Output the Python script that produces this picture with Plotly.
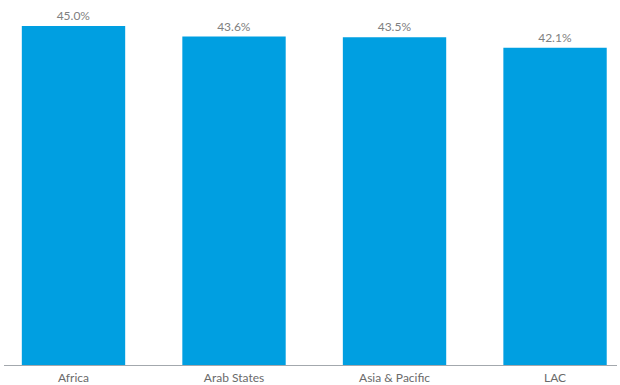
import plotly.graph_objects as go

categories = ["Africa", "Arab States", "Asia & Pacific", "LAC"]
values = [45.0, 43.6, 43.5, 42.1]
labels = [f"{v:.1f}%" for v in values]

fig = go.Figure(go.Bar(
    x=list(range(len(categories))),
    y=values,
    width=0.644,
    marker=dict(color="#009FE1", line=dict(width=0)),
    text=labels,
    textposition="outside",
    textfont=dict(family="Lato", size=12, color="#808080"),
    cliponaxis=False,
))

fig.update_layout(
    width=620, height=385,
    margin=dict(l=4, r=3, t=10, b=20),
    paper_bgcolor="white", plot_bgcolor="white",
    showlegend=False,
    font=dict(family="Lato", size=12, color="#666666"),
    xaxis=dict(
        range=[-0.433, 3.386],
        tickmode="array",
        tickvals=list(range(len(categories))),
        ticktext=categories,
        showline=True, linecolor="#a3a8ad", linewidth=1,
        showgrid=False, zeroline=False, ticks="",
        ticklabelstandoff=2,
        automargin=False,
        tickfont=dict(family="Lato", size=12, color="#6a6a6a"),
    ),
    yaxis=dict(
        range=[0, 47.12],
        visible=False,
        showgrid=False, zeroline=False,
    ),
)

fig.write_html("out.html")
